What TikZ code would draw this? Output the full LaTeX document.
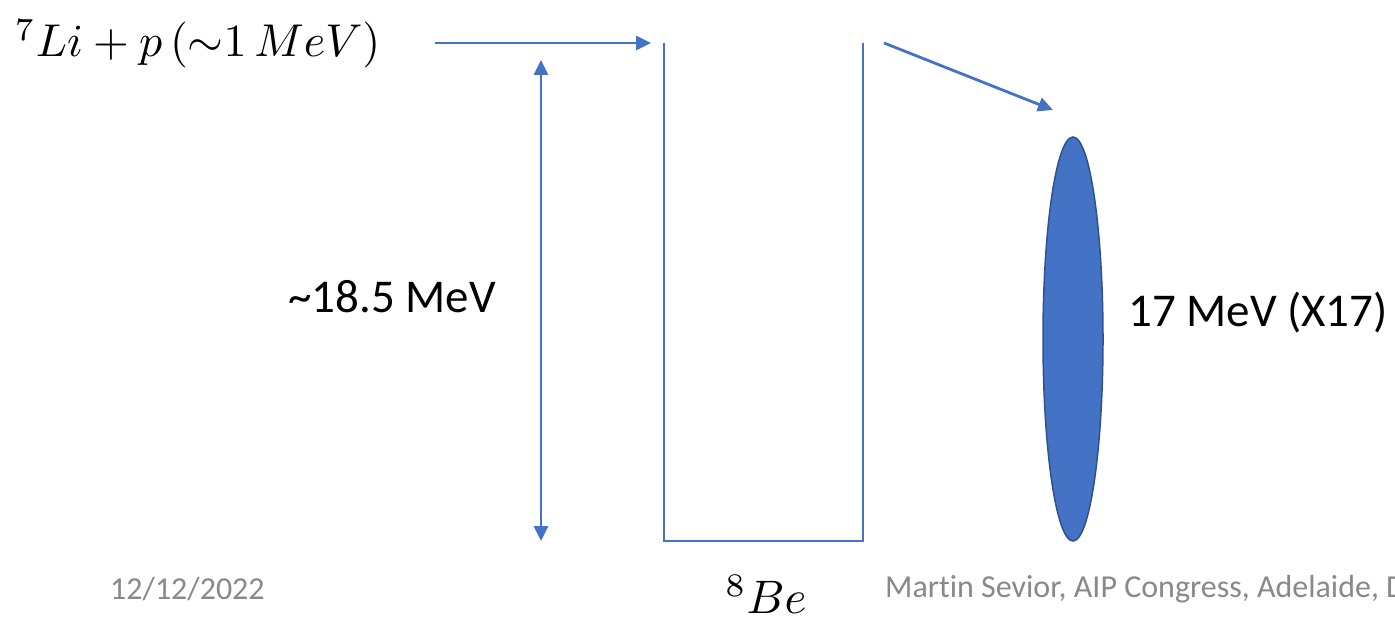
\documentclass[tikz,border=0pt]{standalone}
\usepackage{graphicx}
\usepackage{fontspec}
\setmainfont{Carlito}[Ligatures=CommonOff]
\usetikzlibrary{arrows.meta,shapes.geometric}
\definecolor{accent}{HTML}{4472C4}
\definecolor{accentdark}{HTML}{2F528F}
\definecolor{footgray}{HTML}{898989}
\tikzset{
  flow/.style={draw=accent,line width=2.8pt,-{Triangle[length=15pt,width=14pt]}},
  twoway/.style={draw=accent,line width=2.8pt,{Triangle[length=15pt,width=14pt]}-{Triangle[length=15pt,width=14pt]}},
  well/.style={draw=accent,line width=1.3pt},
  bigtext/.style={font=\fontsize{47}{54}\selectfont,inner sep=0pt},
  mathtext/.style={inner sep=0pt},
  foot/.style={font=\fontsize{32}{38}\selectfont,text=footgray,inner sep=0pt},
  particle/.style={ellipse,fill=accent,draw=accentdark,line width=1.5pt,minimum width=60pt,minimum height=404pt,inner sep=0pt}
}
\begin{document}
\begin{tikzpicture}[x=1pt,y=-1pt]
\clip (0,0) rectangle (1395,620);
\fill[white] (0,0) rectangle (1395,620);
% texts
\node[mathtext,anchor=west] (li) at (15,44) {\scalebox{4.6}{$^{7}Li+p\,({\sim}1\,MeV)$}};
\node[mathtext] (be) at (766,594) {\scalebox{4.7}{$^{8}Be$}};
\node[bigtext,anchor=west] (gap) at (288,297) {\char`~18.5 MeV};
\node[bigtext,anchor=west] (xlabel) at (1128,313) {17 MeV (X17)};
\node[foot,anchor=west] (date) at (110,589) {12/12/2022};
\node[foot,anchor=west] (author) at (885,589) {Martin Sevior, AIP Congress, Adelaide, D};
% well
\coordinate (wtl) at (664,43);
\coordinate (wbl) at (664,541);
\coordinate (wbr) at (863,541);
\coordinate (wtr) at (863,43);
\draw[well] (wtl) -- (wbl) -- (wbr) -- (wtr);
% particle
\node[particle] (x17) at (1073,339) {};
% arrows
\coordinate (inS) at (435,43);
\coordinate (inE) at (651,43);
\draw[flow] (inS) -- (inE);
\coordinate (outS) at (884,43);
\coordinate (outE) at (1053,110);
\draw[flow] (outS) -- (outE);
\coordinate (eTop) at (541,60);
\coordinate (eBot) at (541,541);
\draw[twoway] (eTop) -- (eBot);
\end{tikzpicture}
\end{document}
